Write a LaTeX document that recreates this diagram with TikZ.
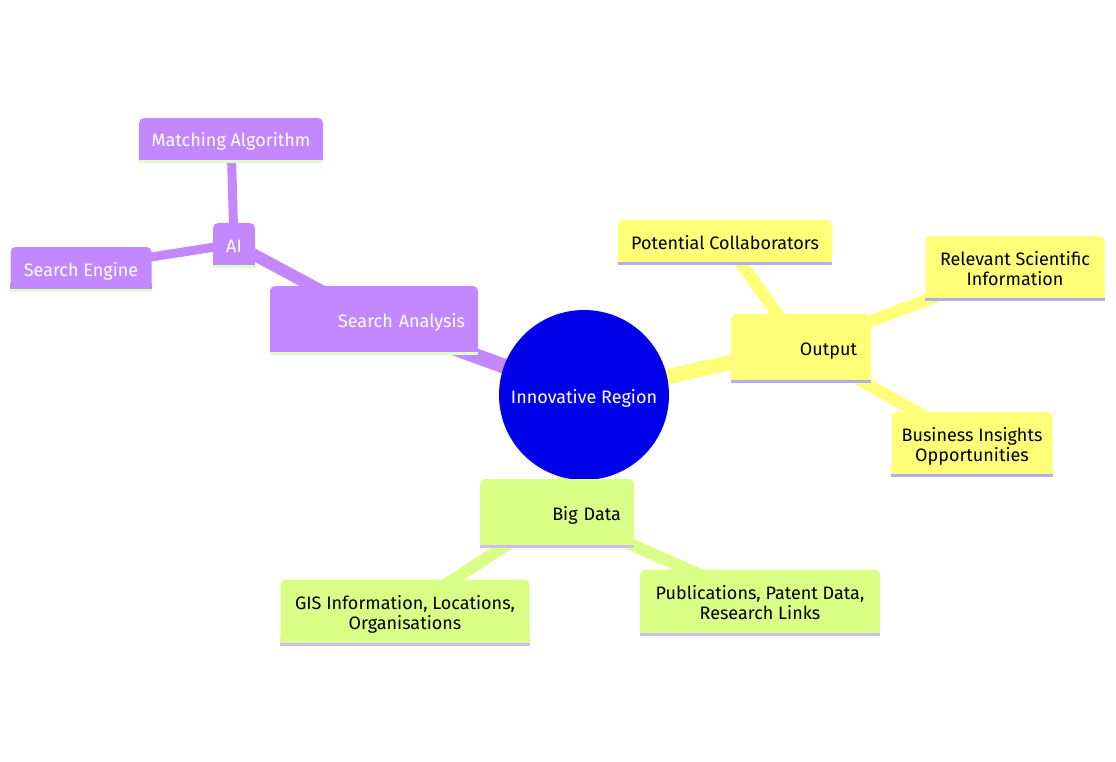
\documentclass[tikz,border=0pt]{standalone}
\usepackage{fontspec}
\setmainfont{Fira Sans}
\usetikzlibrary{backgrounds}
\definecolor{myRoot}{HTML}{0000EB}
\definecolor{myPurple}{HTML}{C387FF}
\definecolor{myYellow}{HTML}{FFFF78}
\definecolor{myGreen}{HTML}{DAFF86}
\definecolor{barGreen}{HTML}{E0FFC6}
\definecolor{barBlue}{HTML}{ADAFF0}
\definecolor{barLilac}{HTML}{CFBDFB}

\begin{document}
\begin{tikzpicture}[x=1pt, y=-1pt, line cap=butt]

  \tikzstyle{R}=[circle,fill=myRoot,text=white,minimum size=170pt,inner sep=0pt, font=\fontsize{18}{20}\selectfont, text height=16pt, text depth=0pt]
  \tikzstyle{P}=[rectangle,rounded corners=5pt,fill=myPurple,text=white,minimum height=42pt,inner sep=0pt, font=\fontsize{18}{20}\selectfont, align=center, text height=16pt, text depth=0pt]
  \tikzstyle{Y}=[P,fill=myYellow,text=black]
  \tikzstyle{G}=[P,fill=myGreen,text=black]
  \tikzstyle{L1}=[minimum height=66pt, inner xsep=13pt, align=right]
  \tikzstyle{two}=[minimum height=62pt, text height=36pt, text depth=0pt]
  \tikzstyle{E0}=[line width=15pt]
  \tikzstyle{E1}=[line width=12pt]
  \tikzstyle{E2}=[line width=9pt]

  \useasboundingbox (0,0) rectangle (1116,762);

  % root
  \node[R] at (584,395) (region) {Innovative Region};

  % search analysis branch
  \node[P,L1,text width=182pt] at (374,319) (search) {Search Analysis};
  \node[P,minimum width=42pt] at (234,244) (ai) {AI};
  \node[P,minimum width=184pt] at (231,139) (matching) {Matching Algorithm};
  \node[P,minimum width=141pt] at (81,268) (engine) {Search Engine};

  % output branch
  \node[Y,L1,text width=112pt,inner xsep=14pt] at (801,347) (output) {Output};
  \node[Y,minimum width=214pt] at (725,241) (collab) {Potential Collaborators};
  \node[Y,two,minimum width=179pt] at (1015,267) (sciinfo) {Relevant Scientific\\Information};
  \node[Y,two,minimum width=161pt] at (972,443) (business) {Business Insights\\Opportunities};

  % big data branch
  \node[G,L1,text width=128pt] at (557,512) (bigdata) {Big Data};
  \node[G,two,minimum width=249pt,minimum height=63pt] at (405,611) (gis) {GIS Information, Locations,\\Organisations};
  \node[G,two,minimum width=240pt,minimum height=63pt] at (760,601) (pubs) {Publications, Patent Data,\\Research Links};

  % square bottoms and bottom bars
  \foreach \n/\c/\b in {search/myPurple/barGreen, ai/myPurple/barGreen, matching/myPurple/barGreen, engine/myPurple/barGreen,
                        output/myYellow/barBlue, collab/myYellow/barBlue, sciinfo/myYellow/barBlue, business/myYellow/barBlue,
                        bigdata/myGreen/barLilac, gis/myGreen/barLilac, pubs/myGreen/barLilac}{
    \fill[\c] ([yshift=6pt]\n.south west) rectangle (\n.south east);
    \fill[\b] (\n.south west) rectangle ([yshift=-3pt]\n.south east);
  }

  \begin{scope}[on background layer]
    \draw [E0, myPurple] (region.center) to (search.center);
    \draw [E1, myPurple] (search.center) to (ai.center);
    \draw [E2, myPurple] (ai.center) to (matching.center);
    \draw [E2, myPurple] (ai.center) to (engine.center);

    \draw [E0, myYellow] (region.center) to (output.center);
    \draw [E1, myYellow] (output.center) to (collab.center);
    \draw [E1, myYellow] (output.center) to (sciinfo.center);
    \draw [E1, myYellow] (output.center) to (business.center);

    \draw [E0, myGreen] (region.center) to (bigdata.center);
    \draw [E1, myGreen] (bigdata.center) to (gis.center);
    \draw [E1, myGreen] (bigdata.center) to (pubs.center);
  \end{scope}

\end{tikzpicture}
\end{document}
